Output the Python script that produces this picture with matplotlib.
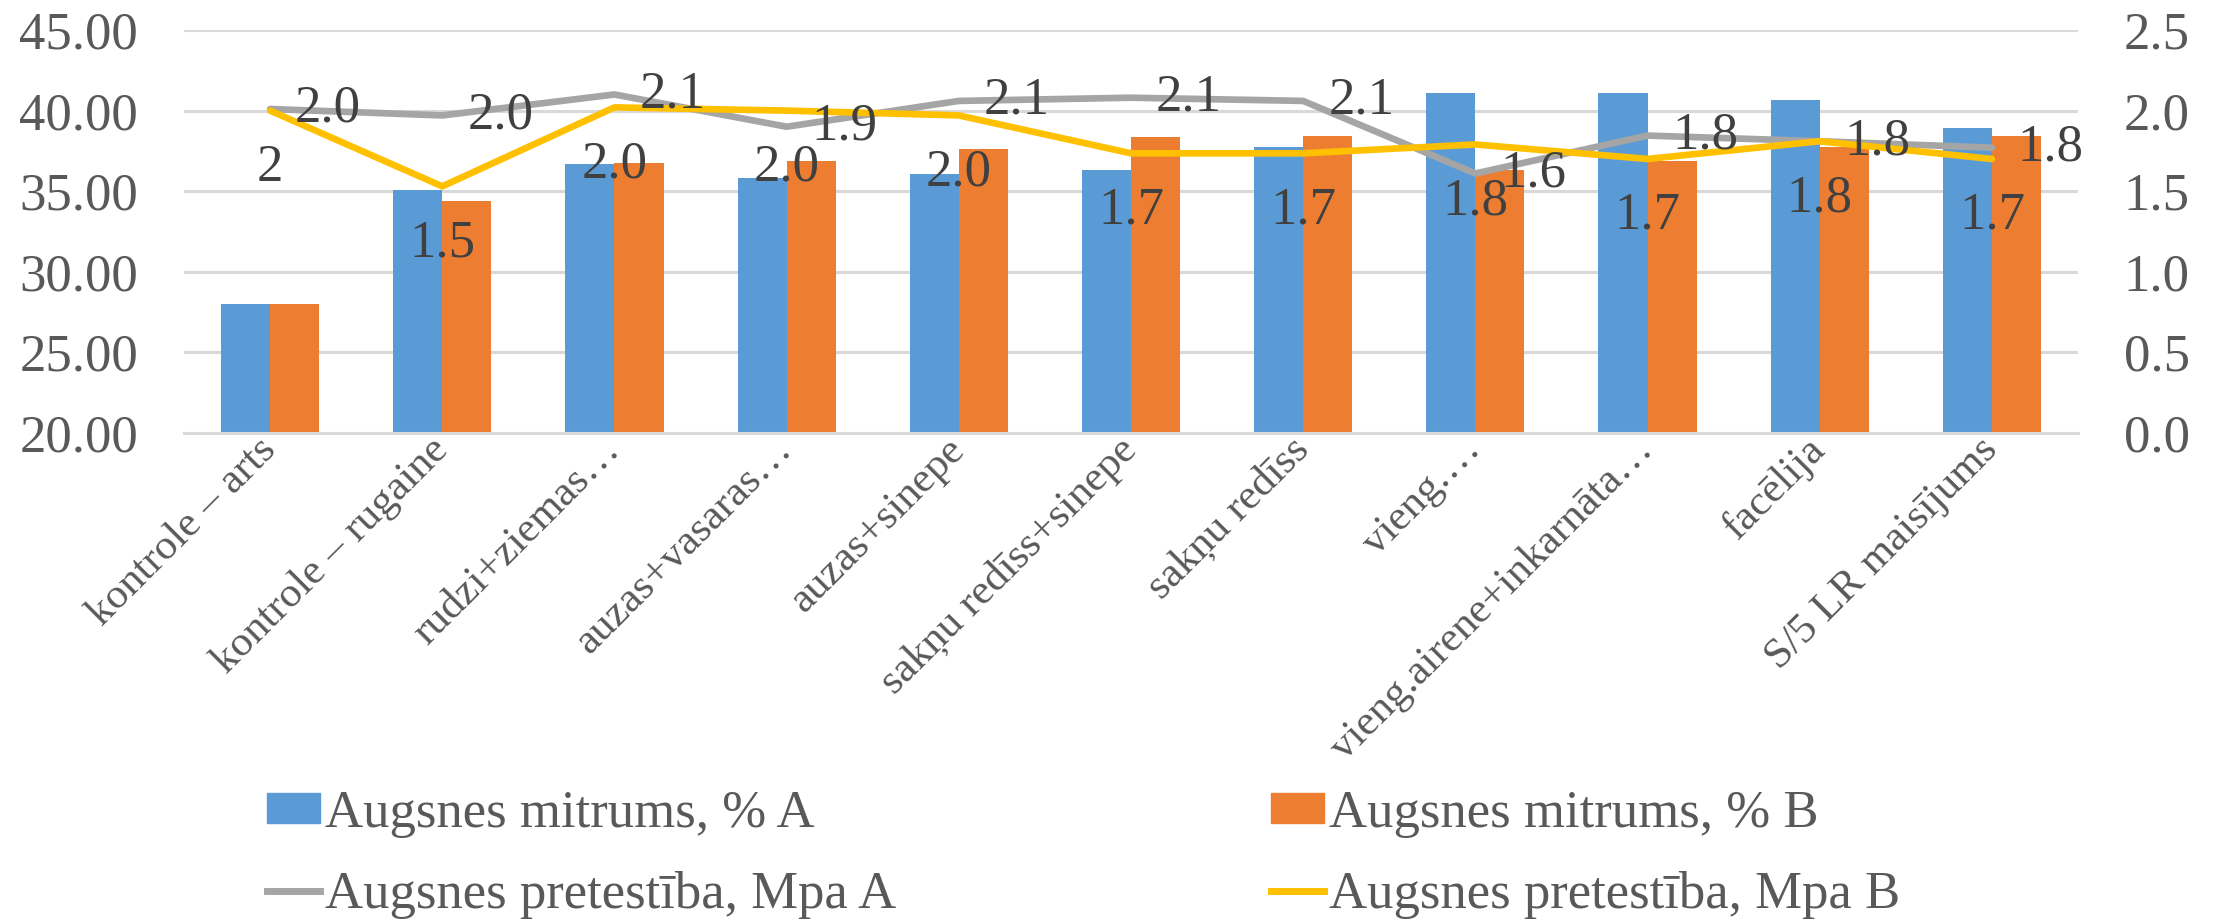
import numpy as np
import matplotlib
matplotlib.use('Agg')
import matplotlib.pyplot as plt
from matplotlib.patches import Patch
from matplotlib.lines import Line2D

plt.rcParams['font.family'] = ['Liberation Serif', 'DejaVu Serif']

categories = ['kontrole – arts', 'kontrole – rugaine', 'rudzi+ziemas…', 'auzas+vasaras…',
              'auzas+sinepe', 'sakņu redīss+sinepe', 'sakņu redīss', 'vieng.…',
              'vieng.airene+inkarnāta…', 'facēlija', 'S/5 LR maisījums']
mitrums_a = [28.0, 35.1, 36.7, 35.8, 36.05, 36.3, 37.75, 41.1, 41.1, 40.65, 38.9]
mitrums_b = [28.0, 34.4, 36.75, 36.9, 37.6, 38.35, 38.4, 36.3, 36.85, 37.75, 38.45]
pretest_a = [2.01, 1.97, 2.10, 1.90, 2.06, 2.08, 2.06, 1.61, 1.845, 1.81, 1.77]
pretest_b = [2.00, 1.53, 2.02, 2.00, 1.97, 1.735, 1.735, 1.79, 1.70, 1.81, 1.70]
labels_a = ['2.0', '2.0', '2.1', '1.9', '2.1', '2.1', '2.1', '1.6', '1.8', '1.8', '1.8']
labels_b = ['2', '1.5', '2.0', '2.0', '2.0', '1.7', '1.7', '1.8', '1.7', '1.8', '1.7']

c_blue = '#5B9BD5'
c_orange = '#ED7D31'
c_gray = '#A5A5A5'
c_yellow = '#FFC000'
txt = '#595959'
lbl = '#404040'
grid = '#D9D9D9'

fig = plt.figure(figsize=(22.21, 9.21), dpi=100)
ax = fig.add_axes([184/2221, 1 - 433/921, (2078-184)/2221, (433-30)/921])
x = np.arange(len(categories))
w = 0.285

ax.bar(x - w/2, mitrums_a, w, color=c_blue, zorder=2)
ax.bar(x + w/2, mitrums_b, w, color=c_orange, zorder=2)
ax.set_ylim(20, 45)
ax.set_xlim(-0.5, len(categories) - 0.5)
ax.set_yticks(np.arange(20, 46, 5))
ax.set_yticklabels([f'{v:.2f}' for v in np.arange(20, 46, 5)])
ax.yaxis.grid(True, color=grid, linewidth=2.2, zorder=0)
ax.set_axisbelow(True)
for s in ['top', 'right', 'left']:
    ax.spines[s].set_visible(False)
ax.spines['bottom'].set_color(grid)
ax.spines['bottom'].set_linewidth(2.2)
ax.tick_params(axis='y', length=0, pad=33, labelsize=38, labelcolor=txt)
ax.tick_params(axis='x', length=0, pad=8, labelsize=31, labelcolor=txt)
ax.set_xticks(x)
ax.set_xticklabels(categories, rotation=45, ha='right', va='center', rotation_mode='anchor')

ax2 = ax.twinx()
ax2.plot(x, pretest_a, color=c_gray, linewidth=4.8, solid_capstyle='round', zorder=3)
ax2.plot(x, pretest_b, color=c_yellow, linewidth=4.8, solid_capstyle='round', zorder=3)
ax2.set_ylim(0, 2.5)
ax2.set_yticks(np.arange(0, 2.51, 0.5))
ax2.set_yticklabels([f'{v:.1f}' for v in np.arange(0, 2.51, 0.5)])
ax2.tick_params(axis='y', length=0, pad=33, labelsize=38, labelcolor=txt)
for s in ax2.spines.values():
    s.set_visible(False)

for xi, yi, t in zip(x, pretest_a, labels_a):
    ax2.annotate(t, (xi, yi), xytext=(25, 0), textcoords='offset pixels',
                 ha='left', va='center', fontsize=38, color=lbl, zorder=5)
for xi, yi, t in zip(x, pretest_b, labels_b):
    ax2.annotate(t, (xi, yi), xytext=(0, -33), textcoords='offset pixels',
                 ha='center', va='top', fontsize=38, color=lbl, zorder=5)

handles = [Patch(color=c_blue), Line2D([], [], color=c_gray, linewidth=5),
           Patch(color=c_orange), Line2D([], [], color=c_yellow, linewidth=5)]
names = ['Augsnes mitrums, % A', 'Augsnes pretestība, Mpa A',
         'Augsnes mitrums, % B', 'Augsnes pretestība, Mpa B']
fig.legend(handles, names, ncol=2, loc='upper left', bbox_to_anchor=(267/2221, 1 - 790/921),
           frameon=False, fontsize=38, labelcolor=txt, borderpad=0, borderaxespad=0,
           handlelength=1.0, handleheight=0.5, handletextpad=0.1, columnspacing=7.1,
           labelspacing=0.62)

fig.savefig('out.png', dpi=100)
